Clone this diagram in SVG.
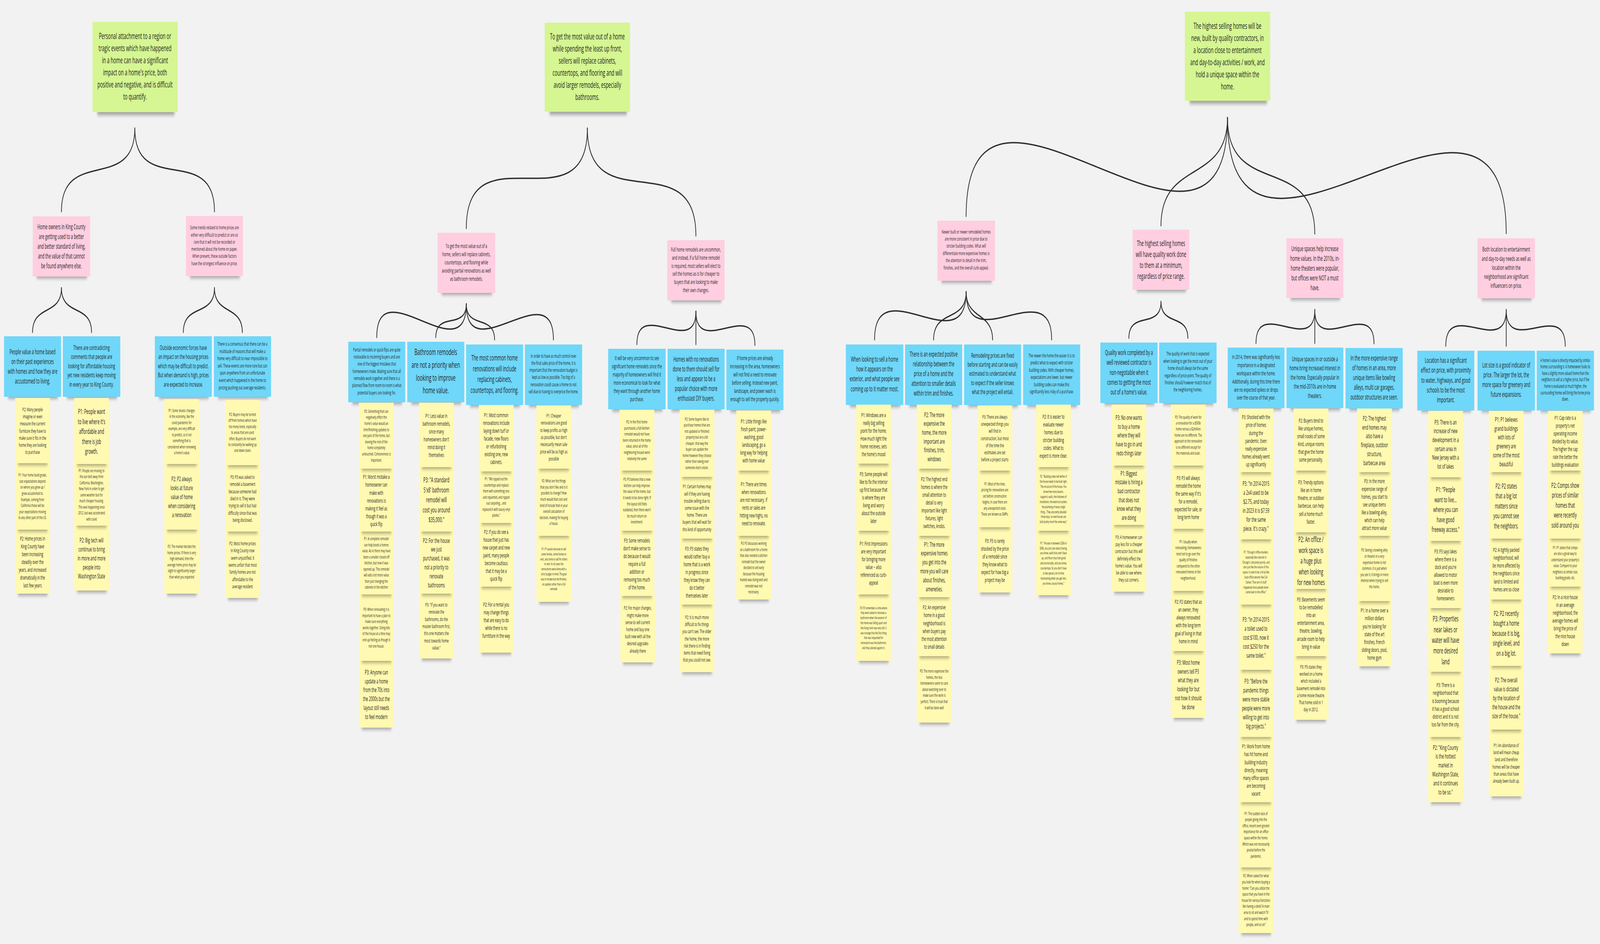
<svg xmlns="http://www.w3.org/2000/svg" width="7916" height="2417" viewBox="0 0 7916 2417" preserveAspectRatio="none" style="width:100vw;height:100vh;display:block;background:#f2f2f2">
<defs>
<style>
.c{fill:none;stroke:#2e2e2e;stroke-width:3.5;stroke-linecap:round}
.t{font-family:"Open Sans","Liberation Sans",sans-serif;fill:#1e1e1e;text-anchor:middle;dominant-baseline:central}
.gr{fill:#d5f692}
.pk{fill:#ffcee0}
.bl{fill:#6fd7f9}
.yl{fill:#fff9b1}
.sd{fill:#000;opacity:.32;filter:url(#blur)}
</style>
<filter id="blur" x="-20%" y="-100%" width="140%" height="300%"><feGaussianBlur stdDeviation="5"/></filter>
</defs>
<rect x="0" y="0" width="7916" height="2417" fill="#f2f2f2"/>
<g id="connectors">
<path class="c" d="M667 328C667 496.6 304 373.4 304 542"/>
<path class="c" d="M667 328C667 507.4 1061 362.6 1061 542"/>
<path class="c" d="M304 737C304 810.2 161 777.8 161 851"/>
<path class="c" d="M304 737C304 812.1 453 775.9 453 851"/>
<path class="c" d="M1061 737C1061 813.6 907 774.4 907 851"/>
<path class="c" d="M1061 737C1061 808.6 1199 779.4 1199 851"/>
<path class="c" d="M2906 328C2906 588.7 2307 324.3 2307 585"/>
<path class="c" d="M2906 328C2906 569.5 3443 362.5 3443 604"/>
<path class="c" d="M2307 778C2307 958.5 1864 683.5 1864 864"/>
<path class="c" d="M2307 778C2307 847.5 2156 794.5 2156 864"/>
<path class="c" d="M2307 778C2307 845 2447 803 2447 870"/>
<path class="c" d="M2307 778C2307 954.3 2738 693.7 2738 870"/>
<path class="c" d="M3443 797C3443 918.6 3151 760.4 3151 882"/>
<path class="c" d="M3443 797L3443 882"/>
<path class="c" d="M3443 797C3443 918.9 3735 762.1 3735 884"/>
<path class="c" d="M6073 301C6073 828 4780 27 4780 554"/>
<path class="c" d="M6073 301C6073 473 5744 406 5744 578"/>
<path class="c" d="M6073 301C6073 510.9 6505 389.1 6505 599"/>
<path class="c" d="M6073 301C6073 865.2 7452 33.8 7452 598"/>
<path class="c" d="M4780 747C4780 934.8 4327 682.2 4327 870"/>
<path class="c" d="M4780 747C4780 828 4619 789 4619 870"/>
<path class="c" d="M4780 747C4780 818.9 4911 798.1 4911 870"/>
<path class="c" d="M4780 747C4780 923.2 5203 693.8 5203 870"/>
<path class="c" d="M5744 772C5744 845.9 5585 792.1 5585 866"/>
<path class="c" d="M5744 772C5744 837.2 5877 800.8 5877 866"/>
<path class="c" d="M6505 793C6505 914.4 6214 757.6 6214 879"/>
<path class="c" d="M6505 793L6505 879"/>
<path class="c" d="M6505 793C6505 915.3 6798 757.7 6798 880"/>
<path class="c" d="M7452 793C7452 918.3 7153 760.7 7153 886"/>
<path class="c" d="M7452 793L7452 886"/>
<path class="c" d="M7452 793C7452 915.6 7744 763.4 7744 886"/>
</g>

<g id="green-1"><rect class="sd" x="482" y="277" width="381" height="18"/><rect class="gr" x="458" y="56" width="421" height="231"/>
<text class="t" y="91" font-size="22"><tspan x="668">Personal attachment to a region or</tspan><tspan x="668" dy="31">tragic events which have happened</tspan><tspan x="668" dy="31">in a home can have a significant</tspan><tspan x="668" dy="31">impact on a home's price, both</tspan><tspan x="668" dy="31">positive and negative, and is difficult</tspan><tspan x="668" dy="31">to quantify.</tspan></text></g>
<g id="green-2"><rect class="sd" x="2719" y="276" width="382" height="18"/><rect class="gr" x="2695" y="58" width="422" height="228"/>
<text class="t" y="92" font-size="22"><tspan x="2906">To get the most value out of a home</tspan><tspan x="2906" dy="31">while spending the least up front,</tspan><tspan x="2906" dy="31">sellers will replace cabinets,</tspan><tspan x="2906" dy="31">countertops, and flooring and will</tspan><tspan x="2906" dy="31">avoid larger remodels, especially</tspan><tspan x="2906" dy="31">bathrooms.</tspan></text></g>
<g id="green-3"><rect class="sd" x="5886" y="248" width="382" height="18"/><rect class="gr" x="5862" y="30" width="422" height="228"/>
<text class="t" y="65" font-size="22"><tspan x="6073">The highest selling homes will be</tspan><tspan x="6073" dy="31">new, built by quality contractors, in</tspan><tspan x="6073" dy="31">a location close to entertainment</tspan><tspan x="6073" dy="31">and day-to-day activities / work, and</tspan><tspan x="6073" dy="31">hold a unique space within the</tspan><tspan x="6073" dy="31">home.</tspan></text></g>

<g id="pink-1"><rect class="sd" x="182" y="699" width="248" height="14"/><rect class="pk" x="162" y="554" width="284" height="154"/>
<text class="t" y="579" font-size="17.6"><tspan x="304">Home owners in King County</tspan><tspan x="304" dy="25">are getting used to a better</tspan><tspan x="304" dy="25">and better standard of living,</tspan><tspan x="304" dy="25">and the value of that cannot</tspan><tspan x="304" dy="25">be found anywhere else.</tspan></text></g>
<g id="pink-2"><rect class="sd" x="940" y="698" width="246" height="14"/><rect class="pk" x="920" y="553" width="282" height="154"/>
<text class="t" y="582.2" font-size="13"><tspan x="1061">Some trends related to home prices are</tspan><tspan x="1061" dy="18.3">either very difficult to predict or are so</tspan><tspan x="1061" dy="18.3">rare that it will not be recorded or</tspan><tspan x="1061" dy="18.3">mentioned about the home on paper.</tspan><tspan x="1061" dy="18.3">When present, these outside factors</tspan><tspan x="1061" dy="18.3">have the strongest influence on price.</tspan></text></g>
<g id="pink-3"><rect class="sd" x="2185" y="741" width="249" height="14"/><rect class="pk" x="2165" y="596" width="285" height="154"/>
<text class="t" y="628.8" font-size="14.8"><tspan x="2307.5">To get the most value out of a</tspan><tspan x="2307.5" dy="21">home, sellers will replace cabinets,</tspan><tspan x="2307.5" dy="21">countertops, and flooring while</tspan><tspan x="2307.5" dy="21">avoiding partial renovations as well</tspan><tspan x="2307.5" dy="21">as bathroom remodels.</tspan></text></g>
<g id="pink-4"><rect class="sd" x="3321" y="760" width="248" height="14"/><rect class="pk" x="3301" y="615" width="284" height="154"/>
<text class="t" y="637.5" font-size="14.6"><tspan x="3443">Full home remodels are uncommon,</tspan><tspan x="3443" dy="20.9">and instead, if a full home remodel</tspan><tspan x="3443" dy="20.9">is required, most sellers will elect to</tspan><tspan x="3443" dy="20.9">sell the homes as is for cheaper to</tspan><tspan x="3443" dy="20.9">buyers that are looking to make</tspan><tspan x="3443" dy="20.9">their own changes.</tspan></text></g>
<g id="pink-5"><rect class="sd" x="4658" y="710" width="249" height="14"/><rect class="pk" x="4638" y="565" width="285" height="154"/>
<text class="t" y="592.6" font-size="13"><tspan x="4780">Newer built or newer remodeled homes</tspan><tspan x="4780" dy="18.4">are more consistent in price due to</tspan><tspan x="4780" dy="18.4">stricter building codes. What will</tspan><tspan x="4780" dy="18.4">differentiate more expensive homes is</tspan><tspan x="4780" dy="18.4">the attention to detail in the trim,</tspan><tspan x="4780" dy="18.4">finishes, and the overall curb-appeal.</tspan></text></g>
<g id="pink-6"><rect class="sd" x="5624" y="733" width="244" height="14"/><rect class="pk" x="5604" y="588" width="280" height="154"/>
<text class="t" y="622.7" font-size="19.8"><tspan x="5744">The highest selling homes</tspan><tspan x="5744" dy="27.9">will have quality work done</tspan><tspan x="5744" dy="27.9">to them at a minimum,</tspan><tspan x="5744" dy="27.9">regardless of price range.</tspan></text></g>
<g id="pink-7"><rect class="sd" x="6385" y="754" width="245" height="14"/><rect class="pk" x="6365" y="610" width="281" height="153"/>
<text class="t" y="635.3" font-size="17.6"><tspan x="6505.5">Unique spaces help increase</tspan><tspan x="6505.5" dy="25">home values. In the 2010s, in-</tspan><tspan x="6505.5" dy="25">home theaters were popular,</tspan><tspan x="6505.5" dy="25">but offices were NOT a must</tspan><tspan x="6505.5" dy="25">have.</tspan></text></g>
<g id="pink-8"><rect class="sd" x="7330" y="755" width="248" height="14"/><rect class="pk" x="7310" y="610" width="284" height="154"/>
<text class="t" y="638" font-size="16.4"><tspan x="7452">Both location to entertainment</tspan><tspan x="7452" dy="23.3">and day-to-day needs as well as</tspan><tspan x="7452" dy="23.3">location within the</tspan><tspan x="7452" dy="23.3">neighborhood are significant</tspan><tspan x="7452" dy="23.3">influencers on price.</tspan></text></g>

<g id="blue-1"><rect class="sd" x="40" y="1007" width="246" height="14"/><rect class="bl" x="20" y="861" width="282" height="155"/>
<text class="t" y="899.2" font-size="17.8"><tspan x="161">People value a home based</tspan><tspan x="161" dy="25">on their past experiences</tspan><tspan x="161" dy="25">with homes and how they are</tspan><tspan x="161" dy="25">accustomed to living.</tspan></text></g>
<g id="blue-2"><rect class="sd" x="331" y="1007" width="248" height="14"/><rect class="bl" x="311" y="861" width="284" height="155"/>
<text class="t" y="889.7" font-size="16.6"><tspan x="453">There are contradicting</tspan><tspan x="453" dy="23.5">comments that people are</tspan><tspan x="453" dy="23.5">looking for affordable housing</tspan><tspan x="453" dy="23.5">yet new residents keep moving</tspan><tspan x="453" dy="23.5">in every year to King County.</tspan></text></g>
<g id="blue-3"><rect class="sd" x="786" y="1007" width="246" height="14"/><rect class="bl" x="766" y="861" width="282" height="155"/>
<text class="t" y="889.7" font-size="16.6"><tspan x="907">Outside economic forces have</tspan><tspan x="907" dy="23.5">an impact on the housing prices</tspan><tspan x="907" dy="23.5">which may be difficult to predict.</tspan><tspan x="907" dy="23.5">But when demand is high, prices</tspan><tspan x="907" dy="23.5">are expected to increase.</tspan></text></g>
<g id="blue-4"><rect class="sd" x="1078" y="1007" width="247" height="14"/><rect class="bl" x="1058" y="861" width="283" height="155"/>
<text class="t" y="879.9" font-size="13.2"><tspan x="1199.5">There is a consensus that there can be a</tspan><tspan x="1199.5" dy="18.6">multitude of reasons that will make a</tspan><tspan x="1199.5" dy="18.6">home very difficult to near impossible to</tspan><tspan x="1199.5" dy="18.6">sell. These events are more rare but can</tspan><tspan x="1199.5" dy="18.6">span anywhere from an unfortunate</tspan><tspan x="1199.5" dy="18.6">event which happened in the home to</tspan><tspan x="1199.5" dy="18.6">pricing pushing out average residents.</tspan></text></g>
<g id="blue-5"><rect class="sd" x="1743" y="1021" width="246" height="14"/><rect class="bl" x="1723" y="875" width="282" height="155"/>
<text class="t" y="894.8" font-size="12.8"><tspan x="1864">Partial remodels or quick flips are quite</tspan><tspan x="1864" dy="18.3">noticeable to incoming buyers and are</tspan><tspan x="1864" dy="18.3">one of the biggest mistakes that</tspan><tspan x="1864" dy="18.3">homeowners make. Making sure that all</tspan><tspan x="1864" dy="18.3">remodels work together and there is a</tspan><tspan x="1864" dy="18.3">planned flow from room-to-room is what</tspan><tspan x="1864" dy="18.3">potential buyers are looking for.</tspan></text></g>
<g id="blue-6"><rect class="sd" x="2035" y="1021" width="246" height="14"/><rect class="bl" x="2015" y="875" width="282" height="155"/>
<text class="t" y="900.2" font-size="22.5"><tspan x="2156">Bathroom remodels</tspan><tspan x="2156" dy="32.8">are not a priority when</tspan><tspan x="2156" dy="32.8">looking to improve</tspan><tspan x="2156" dy="32.8">home value.</tspan></text></g>
<g id="blue-7"><rect class="sd" x="2326" y="1028" width="246" height="14"/><rect class="bl" x="2306" y="882" width="282" height="155"/>
<text class="t" y="915.3" font-size="19.6"><tspan x="2447">The most common home</tspan><tspan x="2447" dy="27.8">renovations will include</tspan><tspan x="2447" dy="27.8">replacing cabinets,</tspan><tspan x="2447" dy="27.8">countertops, and flooring.</tspan></text></g>
<g id="blue-8"><rect class="sd" x="2617" y="1028" width="247" height="14"/><rect class="bl" x="2597" y="882" width="283" height="155"/>
<text class="t" y="910.8" font-size="12.9"><tspan x="2738.5">In order to have as much control over</tspan><tspan x="2738.5" dy="18.2">the final sales price of the home, it is</tspan><tspan x="2738.5" dy="18.2">important that the renovation budget is</tspan><tspan x="2738.5" dy="18.2">kept as low as possible. Too big of a</tspan><tspan x="2738.5" dy="18.2">renovation could cause a home to not</tspan><tspan x="2738.5" dy="18.2">sell due to having to overprice the home.</tspan></text></g>
<g id="blue-9"><rect class="sd" x="3029" y="1039" width="248" height="14"/><rect class="bl" x="3009" y="893" width="284" height="155"/>
<text class="t" y="916" font-size="14.8"><tspan x="3151">It will be very uncommon to see</tspan><tspan x="3151" dy="21">significant home remodels since the</tspan><tspan x="3151" dy="21">majority of homeowners will find it</tspan><tspan x="3151" dy="21">more economical to look for what</tspan><tspan x="3151" dy="21">they want through another home</tspan><tspan x="3151" dy="21">purchase.</tspan></text></g>
<g id="blue-10"><rect class="sd" x="3323" y="1039" width="246" height="14"/><rect class="bl" x="3303" y="893" width="282" height="155"/>
<text class="t" y="918.8" font-size="17.6"><tspan x="3444">Homes with no renovations</tspan><tspan x="3444" dy="25">done to them should sell for</tspan><tspan x="3444" dy="25">less and appear to be a</tspan><tspan x="3444" dy="25">popular choice with more</tspan><tspan x="3444" dy="25">enthusiast DIY buyers.</tspan></text></g>
<g id="blue-11"><rect class="sd" x="3614" y="1041" width="246" height="14"/><rect class="bl" x="3594" y="895" width="282" height="155"/>
<text class="t" y="916" font-size="14.8"><tspan x="3735">If home prices are already</tspan><tspan x="3735" dy="21">increasing in the area, homeowners</tspan><tspan x="3735" dy="21">will not find a need to renovate</tspan><tspan x="3735" dy="21">before selling. Instead new paint,</tspan><tspan x="3735" dy="21">landscape, and power wash is</tspan><tspan x="3735" dy="21">enough to sell the property quickly.</tspan></text></g>
<g id="blue-12"><rect class="sd" x="4205" y="1028" width="248" height="14"/><rect class="bl" x="4185" y="882" width="284" height="155"/>
<text class="t" y="918.3" font-size="17.8"><tspan x="4327">When looking to sell a home</tspan><tspan x="4327" dy="25.3">how it appears on the</tspan><tspan x="4327" dy="25.3">exterior, and what people see</tspan><tspan x="4327" dy="25.3">coming up to it matter most.</tspan></text></g>
<g id="blue-13"><rect class="sd" x="4498" y="1028" width="246" height="14"/><rect class="bl" x="4478" y="882" width="282" height="155"/>
<text class="t" y="905.6" font-size="17.6"><tspan x="4619">There is an expected positive</tspan><tspan x="4619" dy="25">relationship between the</tspan><tspan x="4619" dy="25">price of a home and the</tspan><tspan x="4619" dy="25">attention to smaller details</tspan><tspan x="4619" dy="25">within trim and finishes.</tspan></text></g>
<g id="blue-14"><rect class="sd" x="4790" y="1028" width="246" height="14"/><rect class="bl" x="4770" y="882" width="282" height="155"/>
<text class="t" y="909.4" font-size="16.4"><tspan x="4911">Remodeling prices are fixed</tspan><tspan x="4911" dy="23.3">before starting and can be easily</tspan><tspan x="4911" dy="23.3">estimated to understand what</tspan><tspan x="4911" dy="23.3">to expect if the seller knows</tspan><tspan x="4911" dy="23.3">what the project will entail.</tspan></text></g>
<g id="blue-15"><rect class="sd" x="5082" y="1028" width="246" height="14"/><rect class="bl" x="5062" y="882" width="282" height="155"/>
<text class="t" y="910" font-size="13"><tspan x="5203">The newer the home the easier it is to</tspan><tspan x="5203" dy="18.4">predict what to expect with stricter</tspan><tspan x="5203" dy="18.4">building codes. With cheaper homes,</tspan><tspan x="5203" dy="18.4">expectations are lower, but newer</tspan><tspan x="5203" dy="18.4">building codes can make this</tspan><tspan x="5203" dy="18.4">significantly less risky of a purchase.</tspan></text></g>
<g id="blue-16"><rect class="sd" x="5464" y="1023" width="247" height="14"/><rect class="bl" x="5444" y="877" width="283" height="155"/>
<text class="t" y="901.6" font-size="17.8"><tspan x="5585.5">Quality work completed by a</tspan><tspan x="5585.5" dy="25.2">well reviewed contractor is</tspan><tspan x="5585.5" dy="25.2">non-negotiable when it</tspan><tspan x="5585.5" dy="25.2">comes to getting the most</tspan><tspan x="5585.5" dy="25.2">out of a home's value.</tspan></text></g>
<g id="blue-17"><rect class="sd" x="5755" y="1023" width="248" height="14"/><rect class="bl" x="5735" y="877" width="284" height="155"/>
<text class="t" y="905.4" font-size="12.8"><tspan x="5877">The quality of work that is expected</tspan><tspan x="5877" dy="18.4">when looking to get the most out of your</tspan><tspan x="5877" dy="18.4">home should always be the same</tspan><tspan x="5877" dy="18.4">regardless of price point. The quality of</tspan><tspan x="5877" dy="18.4">finishes should however match that of</tspan><tspan x="5877" dy="18.4">the neighboring homes.</tspan></text></g>
<g id="blue-18"><rect class="sd" x="6094" y="1036" width="245" height="14"/><rect class="bl" x="6074" y="890" width="281" height="155"/>
<text class="t" y="913.2" font-size="14.6"><tspan x="6214.5">In 2014, there was significantly less</tspan><tspan x="6214.5" dy="20.8">importance in a designated</tspan><tspan x="6214.5" dy="20.8">workspace within the home.</tspan><tspan x="6214.5" dy="20.8">Additionally, during this time there</tspan><tspan x="6214.5" dy="20.8">are no expected spikes or drops</tspan><tspan x="6214.5" dy="20.8">over the course of that year.</tspan></text></g>
<g id="blue-19"><rect class="sd" x="6385" y="1036" width="245" height="14"/><rect class="bl" x="6365" y="890" width="281" height="155"/>
<text class="t" y="918.5" font-size="16.6"><tspan x="6505.5">Unique spaces in or outside a</tspan><tspan x="6505.5" dy="23.5">home bring increased interest in</tspan><tspan x="6505.5" dy="23.5">the home. Especially popular in</tspan><tspan x="6505.5" dy="23.5">the mid-2010s are in-home</tspan><tspan x="6505.5" dy="23.5">theaters.</tspan></text></g>
<g id="blue-20"><rect class="sd" x="6677" y="1037" width="247" height="14"/><rect class="bl" x="6657" y="891" width="283" height="155"/>
<text class="t" y="915.2" font-size="17.6"><tspan x="6798.5">In the more expensive range</tspan><tspan x="6798.5" dy="25">of homes in an area, more</tspan><tspan x="6798.5" dy="25">unique items like bowling</tspan><tspan x="6798.5" dy="25">alleys, multi car garages,</tspan><tspan x="6798.5" dy="25">outdoor structures are seen.</tspan></text></g>
<g id="blue-21"><rect class="sd" x="7032" y="1041" width="246" height="14"/><rect class="bl" x="7012" y="898" width="282" height="153"/>
<text class="t" y="921.6" font-size="17.8"><tspan x="7153">Location has a significant</tspan><tspan x="7153" dy="25.2">effect on price, with proximity</tspan><tspan x="7153" dy="25.2">to water, highways, and good</tspan><tspan x="7153" dy="25.2">schools to be the most</tspan><tspan x="7153" dy="25.2">important.</tspan></text></g>
<g id="blue-22"><rect class="sd" x="7330" y="1041" width="248" height="14"/><rect class="bl" x="7310" y="898" width="284" height="153"/>
<text class="t" y="933.5" font-size="17.6"><tspan x="7452">Lot size is a good indicator of</tspan><tspan x="7452" dy="25">price. The larger the lot, the</tspan><tspan x="7452" dy="25">more space for greenery and</tspan><tspan x="7452" dy="25">future expansions.</tspan></text></g>
<g id="blue-23"><rect class="sd" x="7623" y="1041" width="247" height="14"/><rect class="bl" x="7603" y="898" width="283" height="153"/>
<text class="t" y="921.6" font-size="11.7"><tspan x="7744.5">A home's value is directly impacted by similar</tspan><tspan x="7744.5" dy="16.6">homes surrounding it. A homeowner looks to</tspan><tspan x="7744.5" dy="16.6">have a slightly more valued home than the</tspan><tspan x="7744.5" dy="16.6">neighbors to sell at a higher price, but if the</tspan><tspan x="7744.5" dy="16.6">home is evaluated at much higher, the</tspan><tspan x="7744.5" dy="16.6">surrounding homes will bring the home price</tspan><tspan x="7744.5" dy="16.6">down.</tspan></text></g>

<g id="note-1-3"><rect class="sd" x="89" y="1511" width="146" height="14"/><rect class="yl" x="75" y="1356" width="172" height="164"/>
<text class="t" y="1378" font-size="14.3"><tspan x="161">P2: Home prices in</tspan><tspan x="161" dy="20">King County have</tspan><tspan x="161" dy="20">been increasing</tspan><tspan x="161" dy="20">steadily over the</tspan><tspan x="161" dy="20">years, and increased</tspan><tspan x="161" dy="20">dramatically in the</tspan><tspan x="161" dy="20">last few years</tspan></text></g>
<g id="note-1-2"><rect class="sd" x="89" y="1347" width="146" height="14"/><rect class="yl" x="75" y="1186" width="172" height="170"/>
<text class="t" y="1216.4" font-size="11"><tspan x="161">P1: Your home build grade,</tspan><tspan x="161" dy="15.6">size expectations depend</tspan><tspan x="161" dy="15.6">on where you grew up /</tspan><tspan x="161" dy="15.6">grew accustomed to.</tspan><tspan x="161" dy="15.6">Example, coming from</tspan><tspan x="161" dy="15.6">California those will be</tspan><tspan x="161" dy="15.6">your expectations moving</tspan><tspan x="161" dy="15.6">to any other part of the US.</tspan></text></g>
<g id="note-1-1"><rect class="sd" x="89" y="1177" width="146" height="14"/><rect class="yl" x="75" y="1019" width="172" height="167"/>
<text class="t" y="1047.6" font-size="13"><tspan x="161">P2: Many people</tspan><tspan x="161" dy="18.3">imagine or even</tspan><tspan x="161" dy="18.3">measure the current</tspan><tspan x="161" dy="18.3">furniture they have to</tspan><tspan x="161" dy="18.3">make sure it fits in the</tspan><tspan x="161" dy="18.3">home they are looking</tspan><tspan x="161" dy="18.3">to purchase</tspan></text></g>

<g id="note-2-3"><rect class="sd" x="381" y="1503" width="146" height="14"/><rect class="yl" x="367" y="1346" width="172" height="166"/>
<text class="t" y="1383" font-size="16.4"><tspan x="453">P2: Big tech will</tspan><tspan x="453" dy="23">continue to bring</tspan><tspan x="453" dy="23">in more and more</tspan><tspan x="453" dy="23">people into</tspan><tspan x="453" dy="23">Washington State</tspan></text></g>
<g id="note-2-2"><rect class="sd" x="381" y="1337" width="146" height="14"/><rect class="yl" x="367" y="1188" width="172" height="158"/>
<text class="t" y="1205" font-size="11"><tspan x="453">P1: People are moving to</tspan><tspan x="453" dy="15.5">the sun belt away from</tspan><tspan x="453" dy="15.5">California, Washington,</tspan><tspan x="453" dy="15.5">New York in order to get</tspan><tspan x="453" dy="15.5">same weather but for</tspan><tspan x="453" dy="15.5">much cheaper housing.</tspan><tspan x="453" dy="15.5">This was happening since</tspan><tspan x="453" dy="15.5">2012, but was accelerated</tspan><tspan x="453" dy="15.5">with covid</tspan></text></g>
<g id="note-2-1"><rect class="sd" x="381" y="1179" width="146" height="14"/><rect class="yl" x="367" y="1019" width="172" height="169"/>
<text class="t" y="1052.5" font-size="18"><tspan x="453">P1: People want</tspan><tspan x="453" dy="25.5">to live where it's</tspan><tspan x="453" dy="25.5">affordable and</tspan><tspan x="453" dy="25.5">there is job</tspan><tspan x="453" dy="25.5">growth.</tspan></text></g>

<g id="note-3-3"><rect class="sd" x="827" y="1511" width="146" height="14"/><rect class="yl" x="813" y="1356" width="172" height="164"/>
<text class="t" y="1399.3" font-size="11"><tspan x="899">P2: The market decides the</tspan><tspan x="899" dy="15.5">home prices. If there is very</tspan><tspan x="899" dy="15.5">high demand, then the</tspan><tspan x="899" dy="15.5">average home price may be</tspan><tspan x="899" dy="15.5">slight to significantly larger</tspan><tspan x="899" dy="15.5">than what you expected</tspan></text></g>
<g id="note-3-2"><rect class="sd" x="827" y="1347" width="146" height="14"/><rect class="yl" x="813" y="1188" width="172" height="168"/>
<text class="t" y="1226.2" font-size="16.3"><tspan x="899">P2: P2 always</tspan><tspan x="899" dy="22.9">looks at future</tspan><tspan x="899" dy="22.9">value of home</tspan><tspan x="899" dy="22.9">when considering</tspan><tspan x="899" dy="22.9">a renovation</tspan></text></g>
<g id="note-3-1"><rect class="sd" x="827" y="1179" width="146" height="14"/><rect class="yl" x="813" y="1022" width="172" height="166"/>
<text class="t" y="1050.8" font-size="11"><tspan x="899">P1: Some drastic changes</tspan><tspan x="899" dy="15.5">in the economy, like the</tspan><tspan x="899" dy="15.5">covid pandemic for</tspan><tspan x="899" dy="15.5">example, are very difficult</tspan><tspan x="899" dy="15.5">to predict, so it not</tspan><tspan x="899" dy="15.5">something that is</tspan><tspan x="899" dy="15.5">considered when reviewing</tspan><tspan x="899" dy="15.5">a home's value</tspan></text></g>

<g id="note-4-3"><rect class="sd" x="1128" y="1522" width="146" height="14"/><rect class="yl" x="1114" y="1361" width="172" height="170"/>
<text class="t" y="1390.8" font-size="13.1"><tspan x="1200">P2: Most home prices</tspan><tspan x="1200" dy="18.4">in King County now</tspan><tspan x="1200" dy="18.4">seem unjustified. It</tspan><tspan x="1200" dy="18.4">seems unfair that most</tspan><tspan x="1200" dy="18.4">family homes are not</tspan><tspan x="1200" dy="18.4">affordable to the</tspan><tspan x="1200" dy="18.4">average resident</tspan></text></g>
<g id="note-4-2"><rect class="sd" x="1128" y="1352" width="146" height="14"/><rect class="yl" x="1114" y="1191" width="172" height="170"/>
<text class="t" y="1220.8" font-size="13.1"><tspan x="1200">P3: P3 was asked to</tspan><tspan x="1200" dy="18.4">remodel a basement</tspan><tspan x="1200" dy="18.4">because someone had</tspan><tspan x="1200" dy="18.4">died in it. They were</tspan><tspan x="1200" dy="18.4">trying to sell it but had</tspan><tspan x="1200" dy="18.4">difficulty since that was</tspan><tspan x="1200" dy="18.4">being disclosed.</tspan></text></g>
<g id="note-4-1"><rect class="sd" x="1128" y="1182" width="146" height="14"/><rect class="yl" x="1114" y="1024" width="172" height="167"/>
<text class="t" y="1061.3" font-size="11"><tspan x="1200">P2: Buyers may be turned</tspan><tspan x="1200" dy="15.4">off from homes which have</tspan><tspan x="1200" dy="15.4">too many levels, especially</tspan><tspan x="1200" dy="15.4">to areas that are used</tspan><tspan x="1200" dy="15.4">often. Buyers do not want</tspan><tspan x="1200" dy="15.4">to constantly be walking up</tspan><tspan x="1200" dy="15.4">and down stairs</tspan></text></g>

<g id="note-5-5"><rect class="sd" x="1790" y="1854" width="146" height="14"/><rect class="yl" x="1776" y="1692" width="172" height="171"/>
<text class="t" y="1720.8" font-size="16.2"><tspan x="1862">P3: Anyone can</tspan><tspan x="1862" dy="22.7">update a home</tspan><tspan x="1862" dy="22.7">from the 70s into</tspan><tspan x="1862" dy="22.7">the 2000s but the</tspan><tspan x="1862" dy="22.7">layout still needs</tspan><tspan x="1862" dy="22.7">to feel modern</tspan></text></g>
<g id="note-5-4"><rect class="sd" x="1790" y="1683" width="146" height="14"/><rect class="yl" x="1776" y="1522" width="172" height="170"/>
<text class="t" y="1560.2" font-size="11"><tspan x="1862">P3: When renovating it is</tspan><tspan x="1862" dy="15.6">important to have a plan to</tspan><tspan x="1862" dy="15.6">make sure everything</tspan><tspan x="1862" dy="15.6">works together. Doing bits</tspan><tspan x="1862" dy="15.6">of the house at a time may</tspan><tspan x="1862" dy="15.6">end up feeling as though it</tspan><tspan x="1862" dy="15.6">not one house.</tspan></text></g>
<g id="note-5-3"><rect class="sd" x="1790" y="1513" width="146" height="14"/><rect class="yl" x="1776" y="1361" width="172" height="161"/>
<text class="t" y="1379.5" font-size="11"><tspan x="1862">P1: A complete remodel</tspan><tspan x="1862" dy="15.5">can help boost a homes</tspan><tspan x="1862" dy="15.5">value. As in there may have</tspan><tspan x="1862" dy="15.5">been a smaller closed off</tspan><tspan x="1862" dy="15.5">kitchen, but now it was</tspan><tspan x="1862" dy="15.5">opened up. This remodel</tspan><tspan x="1862" dy="15.5">will add a lot more value</tspan><tspan x="1862" dy="15.5">than just changing the</tspan><tspan x="1862" dy="15.5">cabinets in the kitchen</tspan></text></g>
<g id="note-5-2"><rect class="sd" x="1790" y="1352" width="146" height="14"/><rect class="yl" x="1776" y="1200" width="172" height="161"/>
<text class="t" y="1219.9" font-size="14.4"><tspan x="1862">P1: Worst mistake a</tspan><tspan x="1862" dy="20.2">homeowner can</tspan><tspan x="1862" dy="20.2">make with</tspan><tspan x="1862" dy="20.2">renovations is</tspan><tspan x="1862" dy="20.2">making it feel as</tspan><tspan x="1862" dy="20.2">though it was a</tspan><tspan x="1862" dy="20.2">quick flip</tspan></text></g>
<g id="note-5-1"><rect class="sd" x="1790" y="1191" width="146" height="14"/><rect class="yl" x="1776" y="1031" width="172" height="169"/>
<text class="t" y="1053.1" font-size="11"><tspan x="1862">P2: Something that can</tspan><tspan x="1862" dy="15.6">negatively effect the</tspan><tspan x="1862" dy="15.6">home's value would an</tspan><tspan x="1862" dy="15.6">trim/finishing updates to</tspan><tspan x="1862" dy="15.6">one part of the home, but</tspan><tspan x="1862" dy="15.6">leaving the rest of the</tspan><tspan x="1862" dy="15.6">home completely</tspan><tspan x="1862" dy="15.6">untouched. Cohesiveness is</tspan><tspan x="1862" dy="15.6">important.</tspan></text></g>

<g id="note-6-4"><rect class="sd" x="2087" y="1677" width="146" height="14"/><rect class="yl" x="2073" y="1520" width="172" height="166"/>
<text class="t" y="1548.1" font-size="13"><tspan x="2159">P3: "If you want to</tspan><tspan x="2159" dy="18.3">renovate the</tspan><tspan x="2159" dy="18.3">bathrooms, do the</tspan><tspan x="2159" dy="18.3">master bathroom first,</tspan><tspan x="2159" dy="18.3">this one matters the</tspan><tspan x="2159" dy="18.3">most towards home</tspan><tspan x="2159" dy="18.3">value."</tspan></text></g>
<g id="note-6-3"><rect class="sd" x="2087" y="1511" width="146" height="14"/><rect class="yl" x="2073" y="1361" width="172" height="159"/>
<text class="t" y="1383.3" font-size="16.3"><tspan x="2159">P2: For the house</tspan><tspan x="2159" dy="22.9">we just</tspan><tspan x="2159" dy="22.9">purchased, it was</tspan><tspan x="2159" dy="22.9">not a priority to</tspan><tspan x="2159" dy="22.9">renovate</tspan><tspan x="2159" dy="22.9">bathrooms</tspan></text></g>
<g id="note-6-2"><rect class="sd" x="2087" y="1352" width="146" height="14"/><rect class="yl" x="2073" y="1196" width="172" height="165"/>
<text class="t" y="1227.5" font-size="18"><tspan x="2159">P3: "A standard</tspan><tspan x="2159" dy="25.5">5'x8' bathroom</tspan><tspan x="2159" dy="25.5">remodel will</tspan><tspan x="2159" dy="25.5">cost you around</tspan><tspan x="2159" dy="25.5">$35,000."</tspan></text></g>
<g id="note-6-1"><rect class="sd" x="2087" y="1187" width="146" height="14"/><rect class="yl" x="2073" y="1031" width="172" height="165"/>
<text class="t" y="1063.5" font-size="14.3"><tspan x="2159">P1: Less value in</tspan><tspan x="2159" dy="20">bathroom remodels,</tspan><tspan x="2159" dy="20">since many</tspan><tspan x="2159" dy="20">homeowners don't</tspan><tspan x="2159" dy="20">mind doing it</tspan><tspan x="2159" dy="20">themselves</tspan></text></g>

<g id="note-7-4"><rect class="sd" x="2383" y="1662" width="146" height="14"/><rect class="yl" x="2369" y="1502" width="172" height="169"/>
<text class="t" y="1546.5" font-size="14.3"><tspan x="2455">P2: For a rental you</tspan><tspan x="2455" dy="20">may change things</tspan><tspan x="2455" dy="20">that are easy to do</tspan><tspan x="2455" dy="20">while there is no</tspan><tspan x="2455" dy="20">furntiture in the way</tspan></text></g>
<g id="note-7-3"><rect class="sd" x="2383" y="1493" width="146" height="14"/><rect class="yl" x="2369" y="1339" width="172" height="163"/>
<text class="t" y="1360.5" font-size="14.3"><tspan x="2455">P2: If you do see a</tspan><tspan x="2455" dy="20">house that just has</tspan><tspan x="2455" dy="20">new carpet and new</tspan><tspan x="2455" dy="20">paint, many people</tspan><tspan x="2455" dy="20">become cautious</tspan><tspan x="2455" dy="20">that it may be a</tspan><tspan x="2455" dy="20">quick flip</tspan></text></g>
<g id="note-7-2"><rect class="sd" x="2383" y="1330" width="146" height="14"/><rect class="yl" x="2369" y="1207" width="172" height="132"/>
<text class="t" y="1226.5" font-size="10.8"><tspan x="2455">P1: "We ripped out the</tspan><tspan x="2455" dy="15.5">countertops and replace</tspan><tspan x="2455" dy="15.5">them with something nice</tspan><tspan x="2455" dy="15.5">and repainted, and ripped</tspan><tspan x="2455" dy="15.5">out carpeting... and</tspan><tspan x="2455" dy="15.5">replaced it with luxury vinyl</tspan><tspan x="2455" dy="15.5">planks."</tspan></text></g>
<g id="note-7-1"><rect class="sd" x="2383" y="1198" width="146" height="14"/><rect class="yl" x="2369" y="1037" width="172" height="170"/>
<text class="t" y="1062" font-size="14.3"><tspan x="2455">P1: Most common</tspan><tspan x="2455" dy="20">renovations include</tspan><tspan x="2455" dy="20">laying down turf or</tspan><tspan x="2455" dy="20">facade, new floors</tspan><tspan x="2455" dy="20">or refurbishing</tspan><tspan x="2455" dy="20">existing one, new</tspan><tspan x="2455" dy="20">cabinets.</tspan></text></g>

<g id="note-8-3"><rect class="sd" x="2668" y="1532" width="146" height="14"/><rect class="yl" x="2654" y="1372" width="172" height="169"/>
<text class="t" y="1405.3" font-size="9"><tspan x="2740">P1: P1 would renovate to sell</tspan><tspan x="2740" dy="12.8">some homes, some homes to</tspan><tspan x="2740" dy="12.8">rent, and some to sell for others</tspan><tspan x="2740" dy="12.8">to rent. In all cases the</tspan><tspan x="2740" dy="12.8">renovations were done with a</tspan><tspan x="2740" dy="12.8">strict budget in mind. The goal</tspan><tspan x="2740" dy="12.8">was to modernize the finishes,</tspan><tspan x="2740" dy="12.8">an update rather than a full</tspan><tspan x="2740" dy="12.8">remodel.</tspan></text></g>
<g id="note-8-2"><rect class="sd" x="2668" y="1363" width="146" height="14"/><rect class="yl" x="2654" y="1200" width="172" height="172"/>
<text class="t" y="1231.4" font-size="11"><tspan x="2740">P2: What are the things</tspan><tspan x="2740" dy="15.6">that you don't like and is it</tspan><tspan x="2740" dy="15.6">possible to change? How</tspan><tspan x="2740" dy="15.6">much would that cost and</tspan><tspan x="2740" dy="15.6">kind of include that in your</tspan><tspan x="2740" dy="15.6">overall calculation of</tspan><tspan x="2740" dy="15.6">decision, making for buying</tspan><tspan x="2740" dy="15.6">a house.</tspan></text></g>
<g id="note-8-1"><rect class="sd" x="2668" y="1191" width="146" height="14"/><rect class="yl" x="2654" y="1038" width="172" height="162"/>
<text class="t" y="1064.1" font-size="13"><tspan x="2740">P1: Cheaper</tspan><tspan x="2740" dy="18.3">renovations are good</tspan><tspan x="2740" dy="18.3">to keep profits as high</tspan><tspan x="2740" dy="18.3">as possible, but don't</tspan><tspan x="2740" dy="18.3">necessarily mean sale</tspan><tspan x="2740" dy="18.3">price will be as high as</tspan><tspan x="2740" dy="18.3">possible</tspan></text></g>

<g id="note-9-4"><rect class="sd" x="3083" y="1687" width="146" height="14"/><rect class="yl" x="3069" y="1526" width="172" height="170"/>
<text class="t" y="1556.4" font-size="13"><tspan x="3155">P2: For major changes,</tspan><tspan x="3155" dy="18.2">might make more</tspan><tspan x="3155" dy="18.2">sense to sell current</tspan><tspan x="3155" dy="18.2">home and buy one</tspan><tspan x="3155" dy="18.2">built new with all the</tspan><tspan x="3155" dy="18.2">desired upgrades</tspan><tspan x="3155" dy="18.2">already there</tspan></text></g>
<g id="note-9-3"><rect class="sd" x="3079" y="1517" width="146" height="14"/><rect class="yl" x="3065" y="1359" width="172" height="167"/>
<text class="t" y="1382.5" font-size="14.3"><tspan x="3151">P3: Some remodels</tspan><tspan x="3151" dy="20">don't make sense to</tspan><tspan x="3151" dy="20">do because it would</tspan><tspan x="3151" dy="20">require a full</tspan><tspan x="3151" dy="20">addition or</tspan><tspan x="3151" dy="20">removing too much</tspan><tspan x="3151" dy="20">of the home.</tspan></text></g>
<g id="note-9-2"><rect class="sd" x="3079" y="1350" width="146" height="14"/><rect class="yl" x="3065" y="1205" width="172" height="154"/>
<text class="t" y="1227.4" font-size="11"><tspan x="3151">P3: P3 believes that a new</tspan><tspan x="3151" dy="15.6">kitchen can help improve</tspan><tspan x="3151" dy="15.6">the value of the home, but</tspan><tspan x="3151" dy="15.6">it needs to be done right. If</tspan><tspan x="3151" dy="15.6">the layout still feels</tspan><tspan x="3151" dy="15.6">outdated, then there won't</tspan><tspan x="3151" dy="15.6">be much return on</tspan><tspan x="3151" dy="15.6">investment.</tspan></text></g>
<g id="note-9-1"><rect class="sd" x="3079" y="1196" width="146" height="14"/><rect class="yl" x="3065" y="1049" width="172" height="156"/>
<text class="t" y="1080.2" font-size="11"><tspan x="3151">P2: In the first home</tspan><tspan x="3151" dy="15.6">purchased, a full kitchen</tspan><tspan x="3151" dy="15.6">remodel would not have</tspan><tspan x="3151" dy="15.6">been returned in the home</tspan><tspan x="3151" dy="15.6">value, since all of the</tspan><tspan x="3151" dy="15.6">neighboring houses were</tspan><tspan x="3151" dy="15.6">relatively the same</tspan></text></g>

<g id="note-10-4"><rect class="sd" x="3376" y="1712" width="146" height="14"/><rect class="yl" x="3362" y="1548" width="172" height="173"/>
<text class="t" y="1579.6" font-size="13"><tspan x="3448">P2: It is much more</tspan><tspan x="3448" dy="18.3">difficult to fix things</tspan><tspan x="3448" dy="18.3">you can't see. The older</tspan><tspan x="3448" dy="18.3">the home, the more</tspan><tspan x="3448" dy="18.3">risk there is in finding</tspan><tspan x="3448" dy="18.3">items that need fixing</tspan><tspan x="3448" dy="18.3">that you could not see.</tspan></text></g>
<g id="note-10-3"><rect class="sd" x="3376" y="1539" width="146" height="14"/><rect class="yl" x="3362" y="1379" width="172" height="169"/>
<text class="t" y="1403.5" font-size="14.3"><tspan x="3448">P3: P3 states they</tspan><tspan x="3448" dy="20">would rather buy a</tspan><tspan x="3448" dy="20">home that is a work</tspan><tspan x="3448" dy="20">in progress since</tspan><tspan x="3448" dy="20">they know they can</tspan><tspan x="3448" dy="20">do it better</tspan><tspan x="3448" dy="20">themselves later</tspan></text></g>
<g id="note-10-2"><rect class="sd" x="3376" y="1370" width="146" height="14"/><rect class="yl" x="3362" y="1221" width="172" height="158"/>
<text class="t" y="1245.4" font-size="13"><tspan x="3448">P1: Certain homes may</tspan><tspan x="3448" dy="18.2">sell if they are having</tspan><tspan x="3448" dy="18.2">trouble selling due to</tspan><tspan x="3448" dy="18.2">some issue with the</tspan><tspan x="3448" dy="18.2">home. There are</tspan><tspan x="3448" dy="18.2">buyers that will wait for</tspan><tspan x="3448" dy="18.2">this kind of opportunity</tspan></text></g>
<g id="note-10-1"><rect class="sd" x="3376" y="1212" width="146" height="14"/><rect class="yl" x="3362" y="1049" width="172" height="172"/>
<text class="t" y="1073" font-size="11"><tspan x="3448">P2: Some buyers like to</tspan><tspan x="3448" dy="15.5">purchase homes that are</tspan><tspan x="3448" dy="15.5">not updated or finished</tspan><tspan x="3448" dy="15.5">properly but are a bit</tspan><tspan x="3448" dy="15.5">cheaper, that way the</tspan><tspan x="3448" dy="15.5">buyer can update the</tspan><tspan x="3448" dy="15.5">home however they choose</tspan><tspan x="3448" dy="15.5">rather than taking over</tspan><tspan x="3448" dy="15.5">someone else's vision.</tspan></text></g>

<g id="note-11-3"><rect class="sd" x="3657" y="1526" width="146" height="14"/><rect class="yl" x="3643" y="1372" width="172" height="163"/>
<text class="t" y="1391.5" font-size="11"><tspan x="3729">P3: P3 discusses working</tspan><tspan x="3729" dy="15.5">on a bathroom for a home</tspan><tspan x="3729" dy="15.5">that also needed a kitchen</tspan><tspan x="3729" dy="15.5">remodel but the owner</tspan><tspan x="3729" dy="15.5">decided to sell early</tspan><tspan x="3729" dy="15.5">because the housing</tspan><tspan x="3729" dy="15.5">market was doing well and</tspan><tspan x="3729" dy="15.5">remodel was not</tspan><tspan x="3729" dy="15.5">necessary.</tspan></text></g>
<g id="note-11-2"><rect class="sd" x="3657" y="1363" width="146" height="14"/><rect class="yl" x="3643" y="1205" width="172" height="167"/>
<text class="t" y="1238.5" font-size="14.3"><tspan x="3729">P1: There are times</tspan><tspan x="3729" dy="20">when renovations</tspan><tspan x="3729" dy="20">are not necessary. If</tspan><tspan x="3729" dy="20">rents or sales are</tspan><tspan x="3729" dy="20">hitting new highs, no</tspan><tspan x="3729" dy="20">need to renovate.</tspan></text></g>
<g id="note-11-1"><rect class="sd" x="3657" y="1196" width="146" height="14"/><rect class="yl" x="3643" y="1051" width="172" height="154"/>
<text class="t" y="1078" font-size="14.3"><tspan x="3729">P1: Little things like</tspan><tspan x="3729" dy="20">fresh paint, power-</tspan><tspan x="3729" dy="20">washing, good</tspan><tspan x="3729" dy="20">landscaping, go a</tspan><tspan x="3729" dy="20">long way for helping</tspan><tspan x="3729" dy="20">with home value</tspan></text></g>

<g id="note-12-4"><rect class="sd" x="4250" y="1683" width="146" height="14"/><rect class="yl" x="4236" y="1522" width="172" height="170"/>
<text class="t" y="1555.8" font-size="9"><tspan x="4322">P3: P3 remembers a time where</tspan><tspan x="4322" dy="12.8">they were asked to renovate a</tspan><tspan x="4322" dy="12.8">bathroom when the exterior of</tspan><tspan x="4322" dy="12.8">the home was falling apart and</tspan><tspan x="4322" dy="12.8">the living room was very old. It</tspan><tspan x="4322" dy="12.8">was strange that the first thing</tspan><tspan x="4322" dy="12.8">that was requested for</tspan><tspan x="4322" dy="12.8">renovation was the bathroom,</tspan><tspan x="4322" dy="12.8">and they advised against it.</tspan></text></g>
<g id="note-12-3"><rect class="sd" x="4250" y="1513" width="146" height="14"/><rect class="yl" x="4236" y="1359" width="172" height="163"/>
<text class="t" y="1390.5" font-size="14.3"><tspan x="4322">P1: First impressions</tspan><tspan x="4322" dy="20">are very important</tspan><tspan x="4322" dy="20">for bringing more</tspan><tspan x="4322" dy="20">value -- also</tspan><tspan x="4322" dy="20">referenced as curb-</tspan><tspan x="4322" dy="20">appeal</tspan></text></g>
<g id="note-12-2"><rect class="sd" x="4250" y="1350" width="146" height="14"/><rect class="yl" x="4236" y="1187" width="172" height="172"/>
<text class="t" y="1213" font-size="14.3"><tspan x="4322">P3: Some people will</tspan><tspan x="4322" dy="20">like to fix the interior</tspan><tspan x="4322" dy="20">up first because that</tspan><tspan x="4322" dy="20">is where they are</tspan><tspan x="4322" dy="20">living and worry</tspan><tspan x="4322" dy="20">about the outside</tspan><tspan x="4322" dy="20">later</tspan></text></g>
<g id="note-12-1"><rect class="sd" x="4250" y="1178" width="146" height="14"/><rect class="yl" x="4236" y="1036" width="172" height="151"/>
<text class="t" y="1061.5" font-size="14.3"><tspan x="4322">P1: Windows are a</tspan><tspan x="4322" dy="20">really big selling</tspan><tspan x="4322" dy="20">point for the home.</tspan><tspan x="4322" dy="20">How much light the</tspan><tspan x="4322" dy="20">home recieves, sets</tspan><tspan x="4322" dy="20">the home's mood</tspan></text></g>

<g id="note-13-5"><rect class="sd" x="4550" y="1841" width="146" height="14"/><rect class="yl" x="4536" y="1680" width="172" height="170"/>
<text class="t" y="1718.2" font-size="11"><tspan x="4622">P3: The more expensive the</tspan><tspan x="4622" dy="15.6">homes, the less</tspan><tspan x="4622" dy="15.6">homeowners seem to care</tspan><tspan x="4622" dy="15.6">about watching over to</tspan><tspan x="4622" dy="15.6">make sure the work is</tspan><tspan x="4622" dy="15.6">perfect. There is trust that</tspan><tspan x="4622" dy="15.6">it will be done well</tspan></text></g>
<g id="note-13-4"><rect class="sd" x="4550" y="1671" width="146" height="14"/><rect class="yl" x="4536" y="1529" width="172" height="151"/>
<text class="t" y="1554" font-size="14.4"><tspan x="4622">P2: An expensive</tspan><tspan x="4622" dy="20.2">home in a good</tspan><tspan x="4622" dy="20.2">neighborhood is</tspan><tspan x="4622" dy="20.2">when buyers pay</tspan><tspan x="4622" dy="20.2">the most attention</tspan><tspan x="4622" dy="20.2">to small details</tspan></text></g>
<g id="note-13-3"><rect class="sd" x="4550" y="1520" width="146" height="14"/><rect class="yl" x="4536" y="1372" width="172" height="157"/>
<text class="t" y="1393.3" font-size="16.3"><tspan x="4622">P1: The more</tspan><tspan x="4622" dy="22.9">expensive homes</tspan><tspan x="4622" dy="22.9">you get into the</tspan><tspan x="4622" dy="22.9">more you will care</tspan><tspan x="4622" dy="22.9">about finishes,</tspan><tspan x="4622" dy="22.9">ameneties.</tspan></text></g>
<g id="note-13-2"><rect class="sd" x="4550" y="1363" width="146" height="14"/><rect class="yl" x="4536" y="1200" width="172" height="172"/>
<text class="t" y="1226" font-size="14.3"><tspan x="4622">P2: The highest end</tspan><tspan x="4622" dy="20">homes is where the</tspan><tspan x="4622" dy="20">small attention to</tspan><tspan x="4622" dy="20">detail is very</tspan><tspan x="4622" dy="20">important like light</tspan><tspan x="4622" dy="20">fixtures, light</tspan><tspan x="4622" dy="20">switches, knobs.</tspan></text></g>
<g id="note-13-1"><rect class="sd" x="4550" y="1191" width="146" height="14"/><rect class="yl" x="4536" y="1036" width="172" height="164"/>
<text class="t" y="1061.5" font-size="16.2"><tspan x="4622">P2: The more</tspan><tspan x="4622" dy="22.6">expensive the</tspan><tspan x="4622" dy="22.6">home, the more</tspan><tspan x="4622" dy="22.6">important are</tspan><tspan x="4622" dy="22.6">finishes, trim,</tspan><tspan x="4622" dy="22.6">windows</tspan></text></g>

<g id="note-14-3"><rect class="sd" x="4850" y="1508" width="146" height="14"/><rect class="yl" x="4836" y="1350" width="172" height="167"/>
<text class="t" y="1383.5" font-size="14.3"><tspan x="4922">P3: P3 is rarely</tspan><tspan x="4922" dy="20">shocked by the price</tspan><tspan x="4922" dy="20">of a remodel since</tspan><tspan x="4922" dy="20">they know what to</tspan><tspan x="4922" dy="20">expect for how big a</tspan><tspan x="4922" dy="20">project may be</tspan></text></g>
<g id="note-14-2"><rect class="sd" x="4850" y="1341" width="146" height="14"/><rect class="yl" x="4836" y="1205" width="172" height="145"/>
<text class="t" y="1238.8" font-size="10.8"><tspan x="4922">P1: Most of the time,</tspan><tspan x="4922" dy="15.5">pricing for renovations are</tspan><tspan x="4922" dy="15.5">set before construction</tspan><tspan x="4922" dy="15.5">begins, in case there are</tspan><tspan x="4922" dy="15.5">any unexpected costs.</tspan><tspan x="4922" dy="15.5">These are known as GMPs.</tspan></text></g>
<g id="note-14-1"><rect class="sd" x="4850" y="1196" width="146" height="14"/><rect class="yl" x="4836" y="1038" width="172" height="167"/>
<text class="t" y="1066.9" font-size="13"><tspan x="4922">P3: There are always</tspan><tspan x="4922" dy="18.2">unexpected things you</tspan><tspan x="4922" dy="18.2">will find in</tspan><tspan x="4922" dy="18.2">construction, but most</tspan><tspan x="4922" dy="18.2">of the time the</tspan><tspan x="4922" dy="18.2">estimates are set</tspan><tspan x="4922" dy="18.2">before a project starts</tspan></text></g>

<g id="note-15-3"><rect class="sd" x="5140" y="1515" width="146" height="14"/><rect class="yl" x="5126" y="1359" width="172" height="165"/>
<text class="t" y="1389.9" font-size="8.9"><tspan x="5212">P1: "Houses in between 250k to</tspan><tspan x="5212" dy="12.9">500k, you just care about having,</tspan><tspan x="5212" dy="12.9">you know, walls that aren't beat</tspan><tspan x="5212" dy="12.9">up, and floors that look good</tspan><tspan x="5212" dy="12.9">and are durable, and you know,</tspan><tspan x="5212" dy="12.9">countertops. So you don't have</tspan><tspan x="5212" dy="12.9">to like spend a lot of time</tspan><tspan x="5212" dy="12.9">maintaining when you get into,</tspan><tspan x="5212" dy="12.9">you know, luxury homes."</tspan></text></g>
<g id="note-15-2"><rect class="sd" x="5140" y="1350" width="146" height="14"/><rect class="yl" x="5126" y="1196" width="172" height="163"/>
<text class="t" y="1219.5" font-size="8.8"><tspan x="5212">P2: "Building codes will define of</tspan><tspan x="5212" dy="12.9">the house needs to be built right.</tspan><tspan x="5212" dy="12.9">The structure of the house. You</tspan><tspan x="5212" dy="12.9">know how many beams,</tspan><tspan x="5212" dy="12.9">supports, walls, the thickness of</tspan><tspan x="5212" dy="12.9">installation, the electrical system,</tspan><tspan x="5212" dy="12.9">the plumbing of every single</tspan><tspan x="5212" dy="12.9">thing... They are pretty detailed</tspan><tspan x="5212" dy="12.9">those days, so new houses are</tspan><tspan x="5212" dy="12.9">built pretty much the same way."</tspan></text></g>
<g id="note-15-1"><rect class="sd" x="5140" y="1187" width="146" height="14"/><rect class="yl" x="5126" y="1036" width="172" height="160"/>
<text class="t" y="1066" font-size="14.3"><tspan x="5212">P2: It is easier to</tspan><tspan x="5212" dy="20">evaluate newer</tspan><tspan x="5212" dy="20">homes due to</tspan><tspan x="5212" dy="20">stricter building</tspan><tspan x="5212" dy="20">codes. What to</tspan><tspan x="5212" dy="20">expect is more clear.</tspan></text></g>

<g id="note-16-3"><rect class="sd" x="5513" y="1506" width="146" height="14"/><rect class="yl" x="5499" y="1344" width="172" height="171"/>
<text class="t" y="1374.6" font-size="13"><tspan x="5585">P3: A homeowner can</tspan><tspan x="5585" dy="18.3">pay less for a cheaper</tspan><tspan x="5585" dy="18.3">contractor but this will</tspan><tspan x="5585" dy="18.3">definitely effect the</tspan><tspan x="5585" dy="18.3">home's value. You will</tspan><tspan x="5585" dy="18.3">be able to see where</tspan><tspan x="5585" dy="18.3">they cut corners.</tspan></text></g>
<g id="note-16-2"><rect class="sd" x="5513" y="1335" width="146" height="14"/><rect class="yl" x="5499" y="1192" width="172" height="152"/>
<text class="t" y="1211.3" font-size="16.2"><tspan x="5585">P1: Biggest</tspan><tspan x="5585" dy="22.7">mistake is hiring a</tspan><tspan x="5585" dy="22.7">bad contractor</tspan><tspan x="5585" dy="22.7">that does not</tspan><tspan x="5585" dy="22.7">know what they</tspan><tspan x="5585" dy="22.7">are doing</tspan></text></g>
<g id="note-16-1"><rect class="sd" x="5513" y="1183" width="146" height="14"/><rect class="yl" x="5499" y="1036" width="172" height="156"/>
<text class="t" y="1068.6" font-size="16.2"><tspan x="5585">P3: No one wants</tspan><tspan x="5585" dy="22.7">to buy a home</tspan><tspan x="5585" dy="22.7">where they will</tspan><tspan x="5585" dy="22.7">have to go in and</tspan><tspan x="5585" dy="22.7">redo things later</tspan></text></g>

<g id="note-17-5"><rect class="sd" x="5807" y="1829" width="146" height="14"/><rect class="yl" x="5793" y="1667" width="172" height="171"/>
<text class="t" y="1695.8" font-size="16.2"><tspan x="5879">P3: Most home</tspan><tspan x="5879" dy="22.7">owners tell P3</tspan><tspan x="5879" dy="22.7">what they are</tspan><tspan x="5879" dy="22.7">looking for but</tspan><tspan x="5879" dy="22.7">not how it should</tspan><tspan x="5879" dy="22.7">be done</tspan></text></g>
<g id="note-17-4"><rect class="sd" x="5807" y="1658" width="146" height="14"/><rect class="yl" x="5793" y="1513" width="172" height="154"/>
<text class="t" y="1539.5" font-size="14.4"><tspan x="5879">P2: P2 states that as</tspan><tspan x="5879" dy="20.2">an owner, they</tspan><tspan x="5879" dy="20.2">always renovated</tspan><tspan x="5879" dy="20.2">with the long term</tspan><tspan x="5879" dy="20.2">goal of living in that</tspan><tspan x="5879" dy="20.2">home in mind</tspan></text></g>
<g id="note-17-3"><rect class="sd" x="5807" y="1504" width="146" height="14"/><rect class="yl" x="5793" y="1354" width="172" height="159"/>
<text class="t" y="1387" font-size="11"><tspan x="5879">P1: Usually when</tspan><tspan x="5879" dy="15.5">renovating, homeowners</tspan><tspan x="5879" dy="15.5">tend not to go over the</tspan><tspan x="5879" dy="15.5">quality of finishes</tspan><tspan x="5879" dy="15.5">compared to the other</tspan><tspan x="5879" dy="15.5">renovated homes in the</tspan><tspan x="5879" dy="15.5">neighborhood.</tspan></text></g>
<g id="note-17-2"><rect class="sd" x="5807" y="1345" width="146" height="14"/><rect class="yl" x="5793" y="1192" width="172" height="162"/>
<text class="t" y="1223" font-size="14.3"><tspan x="5879">P3: P3 will always</tspan><tspan x="5879" dy="20">remodel the home</tspan><tspan x="5879" dy="20">the same way if it's</tspan><tspan x="5879" dy="20">for a remodel,</tspan><tspan x="5879" dy="20">expected for sale, or</tspan><tspan x="5879" dy="20">long term home</tspan></text></g>
<g id="note-17-1"><rect class="sd" x="5807" y="1183" width="146" height="14"/><rect class="yl" x="5793" y="1036" width="172" height="156"/>
<text class="t" y="1067.8" font-size="10.8"><tspan x="5879">P3: The quality of work for</tspan><tspan x="5879" dy="15.4">a renovation for a $500k</tspan><tspan x="5879" dy="15.4">home versus a $2million</tspan><tspan x="5879" dy="15.4">home are no different. The</tspan><tspan x="5879" dy="15.4">approach to the renovation</tspan><tspan x="5879" dy="15.4">is no different except for</tspan><tspan x="5879" dy="15.4">the materials and scale.</tspan></text></g>

<g id="note-18-8"><rect class="sd" x="6142" y="2380" width="146" height="14"/><rect class="yl" x="6128" y="2221" width="172" height="168"/>
<text class="t" y="2242.6" font-size="11"><tspan x="6214">P2: When asked for what</tspan><tspan x="6214" dy="15.6">you look for when buying a</tspan><tspan x="6214" dy="15.6">home: "Can you utilize the</tspan><tspan x="6214" dy="15.6">space that you have in the</tspan><tspan x="6214" dy="15.6">house for various functions</tspan><tspan x="6214" dy="15.6">like having a desk? A main</tspan><tspan x="6214" dy="15.6">area to sit and watch TV</tspan><tspan x="6214" dy="15.6">and to spend time with</tspan><tspan x="6214" dy="15.6">people, and so on"</tspan></text></g>
<g id="note-18-7"><rect class="sd" x="6142" y="2212" width="146" height="14"/><rect class="yl" x="6128" y="2054" width="172" height="167"/>
<text class="t" y="2082.9" font-size="11"><tspan x="6214">P1: The sudden lack of</tspan><tspan x="6214" dy="15.6">people going into the</tspan><tspan x="6214" dy="15.6">office, meant even greater</tspan><tspan x="6214" dy="15.6">importance for an office</tspan><tspan x="6214" dy="15.6">space within the home.</tspan><tspan x="6214" dy="15.6">Which was not necessarily</tspan><tspan x="6214" dy="15.6">pivotal before the</tspan><tspan x="6214" dy="15.6">pandemic.</tspan></text></g>
<g id="note-18-6"><rect class="sd" x="6142" y="2045" width="146" height="14"/><rect class="yl" x="6128" y="1887" width="172" height="167"/>
<text class="t" y="1909.9" font-size="14.4"><tspan x="6214">P1: Work from home</tspan><tspan x="6214" dy="20.2">has hit home and</tspan><tspan x="6214" dy="20.2">building industry</tspan><tspan x="6214" dy="20.2">directly, meaning</tspan><tspan x="6214" dy="20.2">many office spaces</tspan><tspan x="6214" dy="20.2">are becoming</tspan><tspan x="6214" dy="20.2">vacant</tspan></text></g>
<g id="note-18-5"><rect class="sd" x="6142" y="1878" width="146" height="14"/><rect class="yl" x="6128" y="1715" width="172" height="172"/>
<text class="t" y="1743.8" font-size="16.3"><tspan x="6214">P3: "Before the</tspan><tspan x="6214" dy="22.9">pandemic things</tspan><tspan x="6214" dy="22.9">were more stable</tspan><tspan x="6214" dy="22.9">people were more</tspan><tspan x="6214" dy="22.9">willing to get into</tspan><tspan x="6214" dy="22.9">big projects."</tspan></text></g>
<g id="note-18-4"><rect class="sd" x="6142" y="1706" width="146" height="14"/><rect class="yl" x="6128" y="1548" width="172" height="167"/>
<text class="t" y="1585.7" font-size="16.3"><tspan x="6214">P3: "In 2014-2015</tspan><tspan x="6214" dy="22.9">a toilet used to</tspan><tspan x="6214" dy="22.9">cost $100, now it</tspan><tspan x="6214" dy="22.9">cost $250 for the</tspan><tspan x="6214" dy="22.9">same toilet."</tspan></text></g>
<g id="note-18-3"><rect class="sd" x="6142" y="1539" width="146" height="14"/><rect class="yl" x="6128" y="1381" width="172" height="167"/>
<text class="t" y="1413.3" font-size="9"><tspan x="6214">P1: "Chicago's office markets,</tspan><tspan x="6214" dy="12.8">especially like suburbs in</tspan><tspan x="6214" dy="12.8">Chicago's, did pretty poorly, and</tspan><tspan x="6214" dy="12.8">also just like the nature of this</tspan><tspan x="6214" dy="12.8">space. It used to be a lot by like</tspan><tspan x="6214" dy="12.8">back office tenants like Call</tspan><tspan x="6214" dy="12.8">Center. That sort of stuff</tspan><tspan x="6214" dy="12.8">happened since people never</tspan><tspan x="6214" dy="12.8">came back to the office."</tspan></text></g>
<g id="note-18-2"><rect class="sd" x="6142" y="1372" width="146" height="14"/><rect class="yl" x="6128" y="1209" width="172" height="172"/>
<text class="t" y="1237.8" font-size="16.3"><tspan x="6214">P3: "In 2014-2015</tspan><tspan x="6214" dy="22.9">a 2x4 used to be</tspan><tspan x="6214" dy="22.9">$2.75, and today</tspan><tspan x="6214" dy="22.9">in 2023 it is $7.59</tspan><tspan x="6214" dy="22.9">for the same</tspan><tspan x="6214" dy="22.9">piece. It's crazy."</tspan></text></g>
<g id="note-18-1"><rect class="sd" x="6142" y="1200" width="146" height="14"/><rect class="yl" x="6128" y="1046" width="172" height="163"/>
<text class="t" y="1066.9" font-size="14.4"><tspan x="6214">P3: Shocked with the</tspan><tspan x="6214" dy="20.2">price of homes</tspan><tspan x="6214" dy="20.2">during the</tspan><tspan x="6214" dy="20.2">pandemic. Even</tspan><tspan x="6214" dy="20.2">really expensive</tspan><tspan x="6214" dy="20.2">homes already went</tspan><tspan x="6214" dy="20.2">up significantly</tspan></text></g>

<g id="note-19-5"><rect class="sd" x="6414" y="1834" width="146" height="14"/><rect class="yl" x="6400" y="1680" width="172" height="163"/>
<text class="t" y="1706.9" font-size="13"><tspan x="6486">P3: P3 states they</tspan><tspan x="6486" dy="18.2">worked on a home</tspan><tspan x="6486" dy="18.2">which included a</tspan><tspan x="6486" dy="18.2">basement remodel into</tspan><tspan x="6486" dy="18.2">a home movie theatre.</tspan><tspan x="6486" dy="18.2">That home sold in 1</tspan><tspan x="6486" dy="18.2">day in 2012.</tspan></text></g>
<g id="note-19-4"><rect class="sd" x="6414" y="1671" width="146" height="14"/><rect class="yl" x="6400" y="1508" width="172" height="172"/>
<text class="t" y="1533.4" font-size="14.4"><tspan x="6486">P3: Basements seem</tspan><tspan x="6486" dy="20.2">to be remodelled</tspan><tspan x="6486" dy="20.2">into an</tspan><tspan x="6486" dy="20.2">entertainment area,</tspan><tspan x="6486" dy="20.2">theatre, bowling,</tspan><tspan x="6486" dy="20.2">arcade room to help</tspan><tspan x="6486" dy="20.2">bring in value</tspan></text></g>
<g id="note-19-3"><rect class="sd" x="6414" y="1499" width="146" height="14"/><rect class="yl" x="6400" y="1363" width="172" height="145"/>
<text class="t" y="1380.5" font-size="19.5"><tspan x="6486">P2: An office /</tspan><tspan x="6486" dy="27.5">work space is</tspan><tspan x="6486" dy="27.5">a huge plus</tspan><tspan x="6486" dy="27.5">when looking</tspan><tspan x="6486" dy="27.5">for new homes</tspan></text></g>
<g id="note-19-2"><rect class="sd" x="6414" y="1354" width="146" height="14"/><rect class="yl" x="6400" y="1205" width="172" height="158"/>
<text class="t" y="1233.5" font-size="14.4"><tspan x="6486">P3: Trendy options</tspan><tspan x="6486" dy="20.2">like an in home</tspan><tspan x="6486" dy="20.2">theatre, or outdoor</tspan><tspan x="6486" dy="20.2">barbecue, can help</tspan><tspan x="6486" dy="20.2">sell a home much</tspan><tspan x="6486" dy="20.2">faster.</tspan></text></g>
<g id="note-19-1"><rect class="sd" x="6414" y="1196" width="146" height="14"/><rect class="yl" x="6400" y="1046" width="172" height="159"/>
<text class="t" y="1075.5" font-size="14.3"><tspan x="6486">P2: Buyers tend to</tspan><tspan x="6486" dy="20">like unique homes,</tspan><tspan x="6486" dy="20">small nooks of some</tspan><tspan x="6486" dy="20">kind, unique rooms</tspan><tspan x="6486" dy="20">that give the home</tspan><tspan x="6486" dy="20">some personality.</tspan></text></g>

<g id="note-20-4"><rect class="sd" x="6728" y="1697" width="146" height="14"/><rect class="yl" x="6714" y="1539" width="172" height="167"/>
<text class="t" y="1561.9" font-size="14.4"><tspan x="6800">P1: In a home over a</tspan><tspan x="6800" dy="20.2">million dollars</tspan><tspan x="6800" dy="20.2">you're looking for</tspan><tspan x="6800" dy="20.2">state of the art</tspan><tspan x="6800" dy="20.2">finishes, french</tspan><tspan x="6800" dy="20.2">sliding doors, pool,</tspan><tspan x="6800" dy="20.2">home gym</tspan></text></g>
<g id="note-20-3"><rect class="sd" x="6728" y="1530" width="146" height="14"/><rect class="yl" x="6714" y="1372" width="172" height="167"/>
<text class="t" y="1408.7" font-size="11"><tspan x="6800">P3: Seeing a bowling alley</tspan><tspan x="6800" dy="15.6">or theatre in a very</tspan><tspan x="6800" dy="15.6">expensive home is not</tspan><tspan x="6800" dy="15.6">common, it is just when</tspan><tspan x="6800" dy="15.6">you see it, it brings in more</tspan><tspan x="6800" dy="15.6">interest when trying to sell</tspan><tspan x="6800" dy="15.6">the home.</tspan></text></g>
<g id="note-20-2"><rect class="sd" x="6728" y="1363" width="146" height="14"/><rect class="yl" x="6714" y="1209" width="172" height="163"/>
<text class="t" y="1230.5" font-size="14.3"><tspan x="6800">P3: In the more</tspan><tspan x="6800" dy="20">expensive range of</tspan><tspan x="6800" dy="20">homes, you start to</tspan><tspan x="6800" dy="20">see unique items</tspan><tspan x="6800" dy="20">like a bowling alley,</tspan><tspan x="6800" dy="20">which can help</tspan><tspan x="6800" dy="20">attract more value</tspan></text></g>
<g id="note-20-1"><rect class="sd" x="6728" y="1200" width="146" height="14"/><rect class="yl" x="6714" y="1046" width="172" height="163"/>
<text class="t" y="1070.8" font-size="16.2"><tspan x="6800">P2: The highest</tspan><tspan x="6800" dy="22.7">end homes may</tspan><tspan x="6800" dy="22.7">also have a</tspan><tspan x="6800" dy="22.7">fireplace, outdoor</tspan><tspan x="6800" dy="22.7">structure,</tspan><tspan x="6800" dy="22.7">barbecue area</tspan></text></g>

<g id="note-21-6"><rect class="sd" x="7080" y="2045" width="146" height="14"/><rect class="yl" x="7066" y="1887" width="172" height="167"/>
<text class="t" y="1913.3" font-size="16.3"><tspan x="7152">P2: "King County</tspan><tspan x="7152" dy="22.9">is the hottest</tspan><tspan x="7152" dy="22.9">market in</tspan><tspan x="7152" dy="22.9">Washingon State,</tspan><tspan x="7152" dy="22.9">and it continues</tspan><tspan x="7152" dy="22.9">to be so."</tspan></text></g>
<g id="note-21-5"><rect class="sd" x="7080" y="1878" width="146" height="14"/><rect class="yl" x="7066" y="1720" width="172" height="167"/>
<text class="t" y="1753" font-size="14.4"><tspan x="7152">P3: There is a</tspan><tspan x="7152" dy="20.2">neighborhood that</tspan><tspan x="7152" dy="20.2">is booming because</tspan><tspan x="7152" dy="20.2">it has a good school</tspan><tspan x="7152" dy="20.2">district and it is not</tspan><tspan x="7152" dy="20.2">too far from the city.</tspan></text></g>
<g id="note-21-4"><rect class="sd" x="7080" y="1711" width="146" height="14"/><rect class="yl" x="7066" y="1557" width="172" height="163"/>
<text class="t" y="1583.9" font-size="19.5"><tspan x="7152">P3: Properties</tspan><tspan x="7152" dy="27.3">near lakes or</tspan><tspan x="7152" dy="27.3">water will have</tspan><tspan x="7152" dy="27.3">more desired</tspan><tspan x="7152" dy="27.3">land</tspan></text></g>
<g id="note-21-3"><rect class="sd" x="7080" y="1548" width="146" height="14"/><rect class="yl" x="7066" y="1385" width="172" height="172"/>
<text class="t" y="1411" font-size="14.3"><tspan x="7152">P3: P3 says lakes</tspan><tspan x="7152" dy="20">where there is a</tspan><tspan x="7152" dy="20">dock and you're</tspan><tspan x="7152" dy="20">allowed to motor</tspan><tspan x="7152" dy="20">boat is even more</tspan><tspan x="7152" dy="20">desirable to</tspan><tspan x="7152" dy="20">homeowners</tspan></text></g>
<g id="note-21-2"><rect class="sd" x="7080" y="1376" width="146" height="14"/><rect class="yl" x="7066" y="1222" width="172" height="163"/>
<text class="t" y="1252.5" font-size="18"><tspan x="7152">P1: "People</tspan><tspan x="7152" dy="25.5">want to live...</tspan><tspan x="7152" dy="25.5">where you can</tspan><tspan x="7152" dy="25.5">have good</tspan><tspan x="7152" dy="25.5">freeway access."</tspan></text></g>
<g id="note-21-1"><rect class="sd" x="7080" y="1213" width="146" height="14"/><rect class="yl" x="7066" y="1052" width="172" height="170"/>
<text class="t" y="1080.3" font-size="16.2"><tspan x="7152">P3: There is an</tspan><tspan x="7152" dy="22.7">increase of new</tspan><tspan x="7152" dy="22.7">development in a</tspan><tspan x="7152" dy="22.7">certain area in</tspan><tspan x="7152" dy="22.7">New Jersey with a</tspan><tspan x="7152" dy="22.7">lot of lakes</tspan></text></g>

<g id="note-22-6"><rect class="sd" x="7380" y="2030" width="146" height="14"/><rect class="yl" x="7366" y="1868" width="172" height="171"/>
<text class="t" y="1907.8" font-size="13"><tspan x="7452">P1: An abondance of</tspan><tspan x="7452" dy="18.3">land will mean cheap</tspan><tspan x="7452" dy="18.3">land and therefore</tspan><tspan x="7452" dy="18.3">homes will be cheaper</tspan><tspan x="7452" dy="18.3">than areas that have</tspan><tspan x="7452" dy="18.3">already been built up.</tspan></text></g>
<g id="note-22-5"><rect class="sd" x="7380" y="1859" width="146" height="14"/><rect class="yl" x="7366" y="1705" width="172" height="163"/>
<text class="t" y="1740.7" font-size="16.3"><tspan x="7452">P2: The overall</tspan><tspan x="7452" dy="22.9">value is dictated</tspan><tspan x="7452" dy="22.9">by the location of</tspan><tspan x="7452" dy="22.9">the house and the</tspan><tspan x="7452" dy="22.9">size of the house."</tspan></text></g>
<g id="note-22-4"><rect class="sd" x="7380" y="1696" width="146" height="14"/><rect class="yl" x="7366" y="1535" width="172" height="170"/>
<text class="t" y="1569" font-size="18"><tspan x="7452">P2: P2 recently</tspan><tspan x="7452" dy="25.5">bought a home</tspan><tspan x="7452" dy="25.5">because it is big,</tspan><tspan x="7452" dy="25.5">single level, and</tspan><tspan x="7452" dy="25.5">on a big lot.</tspan></text></g>
<g id="note-22-3"><rect class="sd" x="7380" y="1526" width="146" height="14"/><rect class="yl" x="7366" y="1379" width="172" height="156"/>
<text class="t" y="1406.5" font-size="14.4"><tspan x="7452">P2: A tightly packed</tspan><tspan x="7452" dy="20.2">neighborhood, will</tspan><tspan x="7452" dy="20.2">be more affected by</tspan><tspan x="7452" dy="20.2">the neighbors since</tspan><tspan x="7452" dy="20.2">land is limited and</tspan><tspan x="7452" dy="20.2">homes are so close</tspan></text></g>
<g id="note-22-2"><rect class="sd" x="7380" y="1370" width="146" height="14"/><rect class="yl" x="7366" y="1209" width="172" height="170"/>
<text class="t" y="1243" font-size="18"><tspan x="7452">P2: P2 states</tspan><tspan x="7452" dy="25.5">that a big lot</tspan><tspan x="7452" dy="25.5">matters since</tspan><tspan x="7452" dy="25.5">you cannot see</tspan><tspan x="7452" dy="25.5">the neighbors.</tspan></text></g>
<g id="note-22-1"><rect class="sd" x="7380" y="1200" width="146" height="14"/><rect class="yl" x="7366" y="1052" width="172" height="157"/>
<text class="t" y="1073.8" font-size="16.2"><tspan x="7452">P1: P1 believes</tspan><tspan x="7452" dy="22.7">grand buildings</tspan><tspan x="7452" dy="22.7">with lots of</tspan><tspan x="7452" dy="22.7">greenery are</tspan><tspan x="7452" dy="22.7">some of the most</tspan><tspan x="7452" dy="22.7">beautiful</tspan></text></g>

<g id="note-23-4"><rect class="sd" x="7672" y="1664" width="146" height="14"/><rect class="yl" x="7658" y="1502" width="172" height="171"/>
<text class="t" y="1527.5" font-size="14.3"><tspan x="7744">P2: In a nice house</tspan><tspan x="7744" dy="20">in an average</tspan><tspan x="7744" dy="20">neighborhood, the</tspan><tspan x="7744" dy="20">average homes will</tspan><tspan x="7744" dy="20">bring the price of</tspan><tspan x="7744" dy="20">the nice house</tspan><tspan x="7744" dy="20">down</tspan></text></g>
<g id="note-23-3"><rect class="sd" x="7672" y="1493" width="146" height="14"/><rect class="yl" x="7658" y="1379" width="172" height="123"/>
<text class="t" y="1401.8" font-size="10.8"><tspan x="7744">P1: P1 states that comps</tspan><tspan x="7744" dy="15.5">are also a great way to</tspan><tspan x="7744" dy="15.5">understand your property's</tspan><tspan x="7744" dy="15.5">value. Compare to your</tspan><tspan x="7744" dy="15.5">neighbors at similar size,</tspan><tspan x="7744" dy="15.5">building grade, etc.</tspan></text></g>
<g id="note-23-2"><rect class="sd" x="7672" y="1370" width="146" height="14"/><rect class="yl" x="7658" y="1205" width="172" height="174"/>
<text class="t" y="1241" font-size="18"><tspan x="7744">P2: Comps show</tspan><tspan x="7744" dy="25.5">prices of similar</tspan><tspan x="7744" dy="25.5">homes that</tspan><tspan x="7744" dy="25.5">were recently</tspan><tspan x="7744" dy="25.5">sold around you</tspan></text></g>
<g id="note-23-1"><rect class="sd" x="7672" y="1196" width="146" height="14"/><rect class="yl" x="7658" y="1052" width="172" height="153"/>
<text class="t" y="1068.5" font-size="14.3"><tspan x="7744">P1: Cap rate is a</tspan><tspan x="7744" dy="20">property's net</tspan><tspan x="7744" dy="20">operating income</tspan><tspan x="7744" dy="20">divided by its value.</tspan><tspan x="7744" dy="20">The higher the cap</tspan><tspan x="7744" dy="20">rate the better the</tspan><tspan x="7744" dy="20">buildings evaluation</tspan></text></g>
</svg>
